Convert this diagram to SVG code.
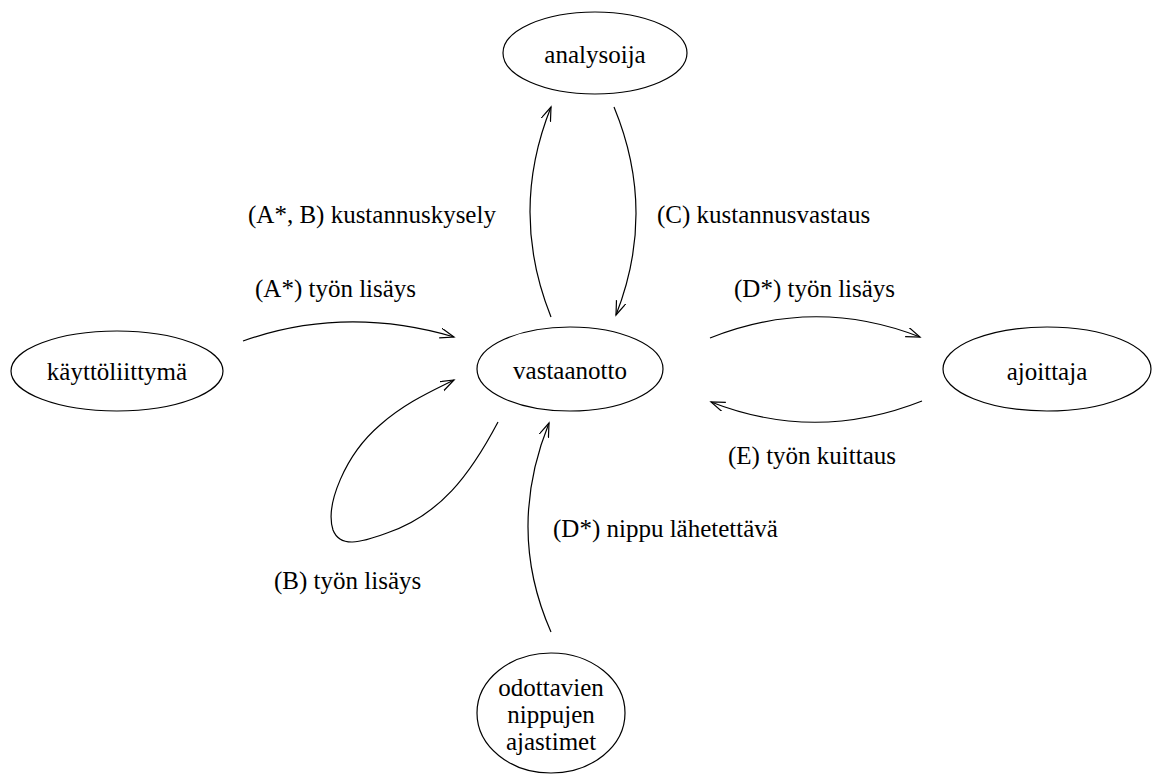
<svg xmlns="http://www.w3.org/2000/svg" width="1152" height="774" viewBox="0 0 1152 774">
  <style>
    .node ellipse { fill: none; stroke: #000; stroke-width: 1.2; }
    text { font-family: "Liberation Serif", "Times New Roman", serif; font-size: 25px; fill: #000; }
    .node text { text-anchor: middle; }
    .edge { fill: none; stroke: #000; stroke-width: 1.2; marker-end: url(#arrow); }
  </style>
  <defs>
    <marker id="arrow" markerUnits="userSpaceOnUse" markerWidth="16" markerHeight="12" refX="14" refY="5" orient="auto">
      <path d="M0,0 L14,5 L0,10" fill="none" stroke="#000" stroke-width="1.2"/>
    </marker>
  </defs>

  <rect width="1152" height="774" fill="#fff"/>

  <g id="analysoija" class="node">
    <ellipse cx="595" cy="53" rx="92" ry="41"/>
    <text x="595" y="63">analysoija</text>
  </g>
  <g id="kayttoliittyma" class="node">
    <ellipse cx="117" cy="371" rx="106" ry="40"/>
    <text x="117" y="380">käyttöliittymä</text>
  </g>
  <g id="vastaanotto" class="node">
    <ellipse cx="570" cy="369" rx="93" ry="42"/>
    <text x="570" y="379">vastaanotto</text>
  </g>
  <g id="ajoittaja" class="node">
    <ellipse cx="1047" cy="369" rx="104" ry="42"/>
    <text x="1047" y="380">ajoittaja</text>
  </g>
  <g id="ajastimet" class="node">
    <ellipse cx="551" cy="713" rx="74" ry="60"/>
    <text x="551" y="696">odottavien</text>
    <text x="551" y="723">nippujen</text>
    <text x="551" y="750">ajastimet</text>
  </g>

  <g id="connectors">
    <path class="edge" d="M243,341 Q345,305 454,337"/>
    <path class="edge" d="M498,422 C470,475 440,515 387,533 C360,543 340,548 333,530 C325,505 345,455 380,425 C405,403 430,392 454,380"/>
    <path class="edge" d="M551,317 Q509,212 551,107"/>
    <path class="edge" d="M614,107 Q657,211 616,315"/>
    <path class="edge" d="M710,338 Q815,296 920,337"/>
    <path class="edge" d="M922,401 Q816,443 711,402"/>
    <path class="edge" d="M551,632 Q506,530 549,423"/>
  </g>

  <g id="labels">
    <text x="248" y="223">(A*, B) kustannuskysely</text>
    <text x="255" y="297">(A*) työn lisäys</text>
    <text x="657" y="223">(C) kustannusvastaus</text>
    <text x="734" y="297">(D*) työn lisäys</text>
    <text x="728" y="464">(E) työn kuittaus</text>
    <text x="553" y="537">(D*) nippu lähetettävä</text>
    <text x="274" y="589">(B) työn lisäys</text>
  </g>
</svg>
